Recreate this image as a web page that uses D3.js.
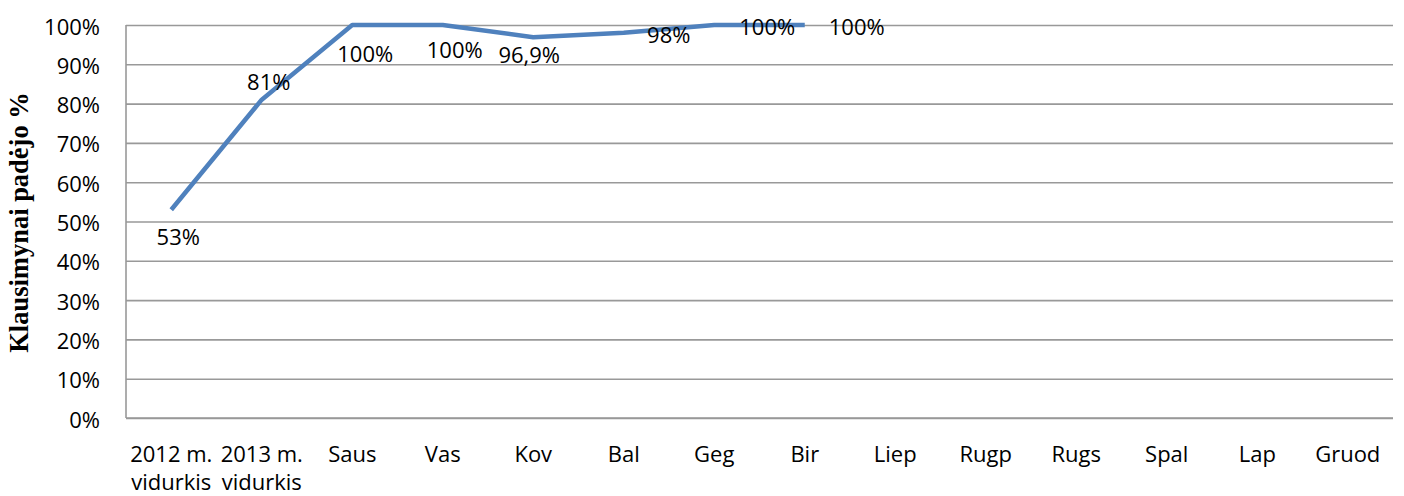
<!DOCTYPE html>
<html>
<head>
<meta charset="utf-8">
<script src="https://cdn.jsdelivr.net/npm/d3@7"></script>
<style>
  html, body { margin: 0; padding: 0; background: #fff; }
  svg { display: block; }
</style>
</head>
<body>
<svg id="chart" width="1404" height="496"></svg>
<script>
// ---- data ----
const categories = ["2012 m.\nvidurkis", "2013 m.\nvidurkis", "Saus", "Vas", "Kov", "Bal", "Geg", "Bir", "Liep", "Rugp", "Rugs", "Spal", "Lap", "Gruod"];
const values = [0.53, 0.81, 1.00, 1.00, 0.969, 0.98, 1.00, 1.00, null, null, null, null, null, null];
const valueLabels = ["53%", "81%", "100%", "100%", "96,9%", "98%", "100%", "100%"];
const yTicks = [0, 0.1, 0.2, 0.3, 0.4, 0.5, 0.6, 0.7, 0.8, 0.9, 1.0];
const yTitle = "Klausimynai padėjo %";

// label placement (offset from point: dx, baseline dy) - layout, not data
const labelOffsets = [[7, 35], [7, -10], [13, 37], [12, 33], [-4, 26], [45, 10], [53, 10], [52, 10]];

// ---- layout ----
const svg = d3.select("#chart");
const pLeft = 126, pRight = 1393, pTop = 25, pBottom = 418;
const tickFont = "'Open Sans', sans-serif";
const fs = 22;

const x = d3.scaleBand().domain(categories).range([pLeft, pRight]).padding(0);
const y = d3.scaleLinear().domain([0, 1]).range([pBottom, pTop]);

// gridlines
const grid = svg.append("g")
  .attr("transform", `translate(${pLeft},0)`)
  .call(d3.axisLeft(y).tickValues(yTicks).tickSize(-(pRight - pLeft)).tickFormat(""));
grid.select(".domain").remove();
grid.selectAll(".tick line").attr("stroke", "#999").attr("stroke-width", 1.6);

// left and bottom axis lines
svg.append("line").attr("x1", pLeft).attr("x2", pLeft).attr("y1", pTop).attr("y2", pBottom)
  .attr("stroke", "#999").attr("stroke-width", 1.6);
svg.append("line").attr("x1", pLeft).attr("x2", pRight).attr("y1", pBottom).attr("y2", pBottom)
  .attr("stroke", "#999").attr("stroke-width", 1.6);

// y tick labels
const yAxis = svg.append("g")
  .attr("transform", `translate(${pLeft},0)`)
  .call(d3.axisLeft(y).tickValues(yTicks).tickSize(0).tickPadding(26).tickFormat(d3.format(".0%")));
yAxis.select(".domain").remove();
yAxis.selectAll("text")
  .attr("font-family", tickFont).attr("font-size", fs).attr("fill", "#000")
  .attr("dy", null).attr("dominant-baseline", "central");

// x tick labels
const xAxis = svg.append("g")
  .attr("transform", `translate(0,${pBottom})`)
  .call(d3.axisBottom(x).tickSize(0).tickFormat(""));
xAxis.select(".domain").remove();
xAxis.selectAll(".tick").each(function(d) {
  const lines = d.split("\n");
  const t = d3.select(this).append("text")
    .attr("font-family", tickFont).attr("font-size", fs).attr("fill", "#000")
    .attr("text-anchor", "middle");
  lines.forEach((ln, i) => {
    t.append("tspan").attr("x", 0).attr("y", 44 + i * 28).text(ln);
  });
});

// y title
svg.append("text")
  .attr("transform", `translate(28,${(93 + 352) / 2}) rotate(-90)`)
  .attr("text-anchor", "middle")
  .attr("font-family", "'Liberation Serif', 'Times New Roman', serif")
  .attr("font-weight", "bold")
  .attr("font-size", 26.5)
  .attr("fill", "#000")
  .text(yTitle);

// line
const pts = categories.map((c, i) => ({ c, v: values[i] }));
const line = d3.line()
  .defined(d => d.v !== null)
  .x(d => x(d.c) + x.bandwidth() / 2)
  .y(d => y(d.v));
svg.append("path")
  .datum(pts)
  .attr("d", line)
  .attr("fill", "none")
  .attr("stroke", "#4f81bd")
  .attr("stroke-width", 4.5)
  .attr("stroke-linejoin", "round");

// data labels
svg.append("g").selectAll("text")
  .data(valueLabels)
  .join("text")
  .attr("x", (d, i) => x(categories[i]) + x.bandwidth() / 2 + labelOffsets[i][0])
  .attr("y", (d, i) => y(values[i]) + labelOffsets[i][1])
  .attr("text-anchor", "middle")
  .attr("font-family", tickFont).attr("font-size", fs).attr("fill", "#000")
  .text(d => d);
</script>
</body>
</html>
